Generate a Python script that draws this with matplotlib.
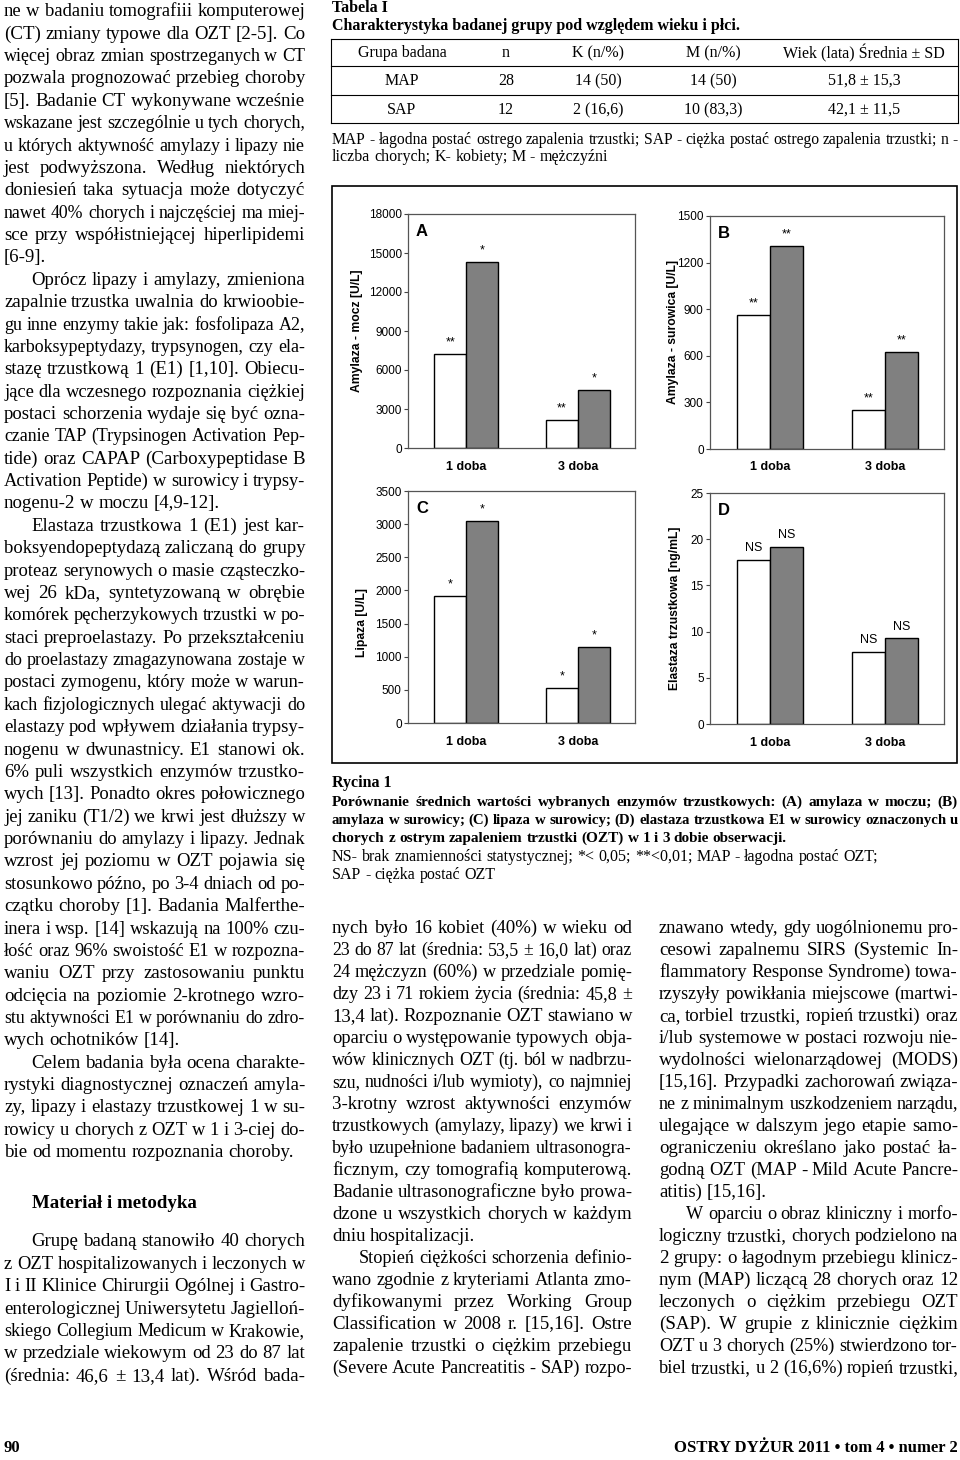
import matplotlib
matplotlib.use('Agg')
import matplotlib.pyplot as plt
from matplotlib.patches import Rectangle
from matplotlib.lines import Line2D

W, H = 960, 1460
SERIF = 'Liberation Serif'
SANS = 'Liberation Sans'
BODY = 13.6

# ================= dane wykresu =================
doby = ['1 doba', '3 doba']

amyl_mocz_map = [7200, 2150]
amyl_mocz_sap = [14300, 4500]
amyl_mocz_sig_map = ['**', '**']
amyl_mocz_sig_sap = ['*', '*']

amyl_sur_map = [860, 250]
amyl_sur_sap = [1310, 625]
amyl_sur_sig_map = ['**', '**']
amyl_sur_sig_sap = ['**', '**']

lipaza_map = [1910, 530]
lipaza_sap = [3050, 1140]
lipaza_sig_map = ['*', '*']
lipaza_sig_sap = ['*', '*']

elast_map = [17.8, 7.8]
elast_sap = [19.2, 9.3]
elast_sig_map = ['NS', 'NS']
elast_sig_sap = ['NS', 'NS']

# ================= tabela =================
tab_header = ['Grupa badana', 'n', 'K (n/%)', 'M (n/%)', 'Wiek (lata) Średnia ± SD']
tab_rows = [
    ['MAP', '28', '14 (50)', '14 (50)', '51,8 ± 15,3'],
    ['SAP', '12', '2 (16,6)', '10 (83,3)', '42,1 ± 11,5'],
]

# ================= tekst (\t = wcięcie, \n = koniec akapitu) =================
col_left = [
    "ne w badaniu tomografiii komputerowej",
    "(CT) zmiany typowe dla OZT [2-5]. Co",
    "więcej obraz zmian spostrzeganych w CT",
    "pozwala prognozować przebieg choroby",
    "[5]. Badanie CT wykonywane wcześnie",
    "wskazane jest szczególnie u tych chorych,",
    "u których aktywność amylazy i lipazy nie",
    "jest podwyższona. Według niektórych",
    "doniesień taka sytuacja może dotyczyć",
    "nawet 40% chorych i najczęściej ma miej-",
    "sce przy współistniejącej hiperlipidemi",
    "[6-9].\n",
    "\tOprócz lipazy i amylazy, zmieniona",
    "zapalnie trzustka uwalnia do krwioobie-",
    "gu inne enzymy takie jak: fosfolipaza A2,",
    "karboksypeptydazy, trypsynogen, czy ela-",
    "stazę trzustkową 1 (E1) [1,10]. Obiecu-",
    "jące dla wczesnego rozpoznania ciężkiej",
    "postaci schorzenia wydaje się być ozna-",
    "czanie TAP (Trypsinogen Activation Pep-",
    "tide) oraz CAPAP (Carboxypeptidase B",
    "Activation Peptide) w surowicy i trypsy-",
    "nogenu-2 w moczu [4,9-12].\n",
    "\tElastaza trzustkowa 1 (E1) jest kar-",
    "boksyendopeptydazą zaliczaną do grupy",
    "proteaz serynowych o masie cząsteczko-",
    "wej 26 kDa, syntetyzowaną w obrębie",
    "komórek pęcherzykowych trzustki w po-",
    "staci preproelastazy. Po przekształceniu",
    "do proelastazy zmagazynowana zostaje w",
    "postaci zymogenu, który może w warun-",
    "kach fizjologicznych ulegać aktywacji do",
    "elastazy pod wpływem działania trypsy-",
    "nogenu w dwunastnicy. E1 stanowi ok.",
    "6% puli wszystkich enzymów trzustko-",
    "wych [13]. Ponadto okres połowicznego",
    "jej zaniku (T1/2) we krwi jest dłuższy w",
    "porównaniu do amylazy i lipazy. Jednak",
    "wzrost jej poziomu w OZT pojawia się",
    "stosunkowo późno, po 3-4 dniach od po-",
    "czątku choroby [1]. Badania Malferthe-",
    "inera i wsp. [14] wskazują na 100% czu-",
    "łość oraz 96% swoistość E1 w rozpozna-",
    "waniu OZT przy zastosowaniu punktu",
    "odcięcia na poziomie 2-krotnego wzro-",
    "stu aktywności E1 w porównaniu do zdro-",
    "wych ochotników [14].\n",
    "\tCelem badania była ocena charakte-",
    "rystyki diagnostycznej oznaczeń amyla-",
    "zy, lipazy i elastazy trzustkowej 1 w su-",
    "rowicy u chorych z OZT w 1 i 3-ciej do-",
    "bie od momentu rozpoznania choroby.\n",
]

col_left2 = [
    "\tGrupę badaną stanowiło 40 chorych",
    "z OZT hospitalizowanych i leczonych w",
    "I i II Klinice Chirurgii Ogólnej i Gastro-",
    "enterologicznej Uniwersytetu Jagielloń-",
    "skiego Collegium Medicum w Krakowie,",
    "w przedziale wiekowym od 23 do 87 lat",
    "(średnia: 46,6 ± 13,4 lat). Wśród bada-",
]

col_mid = [
    "nych było 16 kobiet (40%) w wieku od",
    "23 do 87 lat (średnia: 53,5 ± 16,0 lat) oraz",
    "24 mężczyzn (60%) w przedziale pomię-",
    "dzy 23 i 71 rokiem życia (średnia: 45,8 ±",
    "13,4 lat). Rozpoznanie OZT stawiano w",
    "oparciu o występowanie typowych obja-",
    "wów klinicznych OZT (tj. ból w nadbrzu-",
    "szu, nudności i/lub wymioty), co najmniej",
    "3-krotny wzrost aktywności enzymów",
    "trzustkowych (amylazy, lipazy) we krwi i",
    "było uzupełnione badaniem ultrasonogra-",
    "ficznym, czy tomografią komputerową.",
    "Badanie ultrasonograficzne było prowa-",
    "dzone u wszystkich chorych w każdym",
    "dniu hospitalizacji.\n",
    "\tStopień ciężkości schorzenia definio-",
    "wano zgodnie z kryteriami Atlanta zmo-",
    "dyfikowanymi przez Working Group",
    "Classification w 2008 r. [15,16]. Ostre",
    "zapalenie trzustki o ciężkim przebiegu",
    "(Severe Acute Pancreatitis - SAP) rozpo-",
]

col_right = [
    "znawano wtedy, gdy uogólnionemu pro-",
    "cesowi zapalnemu SIRS (Systemic In-",
    "flammatory Response Syndrome) towa-",
    "rzyszyły powikłania miejscowe (martwi-",
    "ca, torbiel trzustki, ropień trzustki) oraz",
    "i/lub systemowe w postaci rozwoju nie-",
    "wydolności wielonarządowej (MODS)",
    "[15,16]. Przypadki zachorowań związa-",
    "ne z minimalnym uszkodzeniem narządu,",
    "ulegające w dalszym jego etapie samo-",
    "ograniczeniu określano jako postać ła-",
    "godną OZT (MAP - Mild Acute Pancre-",
    "atitis) [15,16].\n",
    "\tW oparciu o obraz kliniczny i morfo-",
    "logiczny trzustki, chorych podzielono na",
    "2 grupy: o łagodnym przebiegu klinicz-",
    "nym (MAP) liczącą 28 chorych oraz 12",
    "leczonych o ciężkim przebiegu OZT",
    "(SAP). W grupie z klinicznie ciężkim",
    "OZT u 3 chorych (25%) stwierdzono tor-",
    "biel trzustki, u 2 (16,6%) ropień trzustki,",
]

tab_note = [
    "MAP - łagodna postać ostrego zapalenia trzustki; SAP - ciężka postać ostrego zapalenia trzustki; n -",
    "liczba chorych; K- kobiety; M - mężczyźni\n",
]
fig_caption_bold = [
    "Porównanie średnich wartości wybranych enzymów trzustkowych: (A) amylaza w moczu; (B)",
    "amylaza w surowicy; (C) lipaza w surowicy; (D) elastaza trzustkowa E1 w surowicy oznaczonych u",
    "chorych z ostrym zapaleniem trzustki (OZT) w 1 i 3 dobie obserwacji.\n",
]
fig_caption = [
    "NS- brak znamienności statystycznej; *< 0,05; **<0,01; MAP - łagodna postać OZT;\n",
    "SAP - ciężka postać OZT\n",
]


fig = plt.figure(figsize=(W / 100, H / 100), dpi=100)
fig.patch.set_facecolor('white')
r = fig.canvas.get_renderer()

_space = {}


def space_w(size, weight):
    key = (size, weight)
    if key not in _space:
        a = fig.text(0, 0, 'x x', fontsize=size, family=SERIF, weight=weight)
        b = fig.text(0, 0, 'xx', fontsize=size, family=SERIF, weight=weight)
        _space[key] = a.get_window_extent(r).width - b.get_window_extent(r).width
        a.remove()
        b.remove()
    return _space[key]


def put_line(text, x0, x1, yc, size=BODY, weight='normal', indent=27):
    # justowanie linii tekstu po słowach (piksele obrazu, y od góry)
    last = text.endswith('\n')
    if text.startswith('\t'):
        x0 += indent
    words = text.split()
    ts = [fig.text(0, 0, w, fontsize=size, family=SERIF, weight=weight, va='baseline')
          for w in words]
    widths = [t.get_window_extent(r).width for t in ts]
    sp = space_w(size, weight)
    natural = sum(widths) + sp * (len(words) - 1)
    avail = x1 - x0
    if natural > avail:
        k = avail / natural
        for t in ts:
            t.set_fontsize(size * k)
        widths = [w * k for w in widths]
        sp *= k
    if last or len(words) == 1:
        gap = sp
    else:
        gap = (avail - sum(widths)) / (len(words) - 1)
    base = yc + 0.23 * size * 100 / 72
    x = x0
    for t, w in zip(ts, widths):
        t.set_position((x / W, 1 - base / H))
        x += w + gap


def put_column(lines, x0, x1, y0, step, size=BODY, weight='normal'):
    for i, s in enumerate(lines):
        put_line(s, x0, x1, y0 + i * step, size, weight)


# ================= tekst główny =================
put_column(col_left, 4, 305, 12, 22.37)
fig.text(32 / W, 1 - 1208 / H, 'Materiał i metodyka', fontsize=13.6, family=SERIF,
         weight='bold', va='baseline')
put_column(col_left2, 4, 305, 1242, 22.4)
put_column(col_mid, 332, 632, 929, 22.0)
put_column(col_right, 659, 958, 929, 22.0)

# ================= tabela =================
fig.text(332 / W, 1 - 12 / H, 'Tabela I', fontsize=11.5, family=SERIF, weight='bold', va='baseline')
fig.text(332 / W, 1 - 30 / H, 'Charakterystyka badanej grupy pod względem wieku i płci.',
         fontsize=11.5, family=SERIF, weight='bold', va='baseline')

tx0, tx1 = 331, 958
row_lines = [39, 66, 95, 123]
for yy in row_lines:
    fig.add_artist(Line2D([tx0 / W, tx1 / W], [1 - yy / H, 1 - yy / H], color='black', lw=0.8))
for xx in (tx0, tx1):
    fig.add_artist(Line2D([xx / W, xx / W], [1 - row_lines[0] / H, 1 - row_lines[-1] / H],
                          color='black', lw=0.8))
col_cx = [402, 506, 598, 713, 864]
row_cy = [53, 81, 110]
for j, cell in enumerate(tab_header):
    fig.text(col_cx[j] / W, 1 - row_cy[0] / H, cell, fontsize=11.5, family=SERIF,
             ha='center', va='center')
for i, row in enumerate(tab_rows):
    for j, cell in enumerate(row):
        fig.text(col_cx[j] / W, 1 - row_cy[i + 1] / H, cell, fontsize=11.5, family=SERIF,
                 ha='center', va='center')
put_column(tab_note, 332, 958, 140, 17.5, size=11.5)

# ================= rycina =================
fig.add_artist(Rectangle((332 / W, 1 - 763 / H), (957 - 332) / W, (763 - 186) / H,
                         transform=fig.transFigure, fill=False, ec='black', lw=1.2))


def panel(box, map_vals, sap_vals, sig_map, sig_sap, ymax, step, ylabel, letter, lab_x, lab_y=0.5):
    l, t, rr, b = box
    ax = fig.add_axes([l / W, 1 - b / H, (rr - l) / W, (b - t) / H])
    w = 0.286
    xs = list(range(len(doby)))
    ax.bar([x - w / 2 for x in xs], map_vals, w, color='white', edgecolor='black', lw=1)
    ax.bar([x + w / 2 for x in xs], sap_vals, w, color='#808080', edgecolor='black', lw=1)
    for x, v, s in zip(xs, map_vals, sig_map):
        ax.annotate(s, (x - w / 2, v), xytext=(0, 4), textcoords='offset points',
                    ha='center', va='bottom', fontsize=9, family=SANS)
    for x, v, s in zip(xs, sap_vals, sig_sap):
        ax.annotate(s, (x + w / 2, v), xytext=(0, 4), textcoords='offset points',
                    ha='center', va='bottom', fontsize=9, family=SANS)
    ax.set_xlim(-0.52, 1.51)
    ax.set_ylim(0, ymax)
    ax.set_yticks([k * step for k in range(int(round(ymax / step)) + 1)])
    ax.set_xticks(xs)
    ax.set_xticklabels(doby, fontsize=9, family=SANS, weight='bold')
    for lab in ax.get_yticklabels():
        lab.set_family(SANS)
        lab.set_fontsize(8.5)
    ax.tick_params(axis='x', length=0, pad=9)
    ax.tick_params(axis='y', length=3, pad=1.5, width=0.8, color='#444444')
    for sp in ax.spines.values():
        sp.set_color('#555555')
        sp.set_linewidth(0.9)
    ax.set_ylabel(ylabel, fontsize=8.7, family=SANS, weight='bold')
    ax.yaxis.label.set_va('center')
    ax.yaxis.set_label_coords((lab_x - l) / (rr - l), lab_y)
    ax.text(0.035, 0.925, letter, transform=ax.transAxes, fontsize=12, family=SANS,
            weight='bold', va='center', ha='left')
    return ax


panel((408, 214, 635, 448), amyl_mocz_map, amyl_mocz_sap, amyl_mocz_sig_map, amyl_mocz_sig_sap,
      18000, 3000, 'Amylaza - mocz [U/L]', 'A', 357)
panel((710, 216, 944, 449), amyl_sur_map, amyl_sur_sap, amyl_sur_sig_map, amyl_sur_sig_sap,
      1500, 300, 'Amylaza - surowica [U/L]', 'B', 673)
panel((408, 491, 635, 723), lipaza_map, lipaza_sap, lipaza_sig_map, lipaza_sig_sap,
      3500, 500, 'Lipaza [U/L]', 'C', 362, 0.435)
panel((710, 493, 944, 724), elast_map, elast_sap, elast_sig_map, elast_sig_sap,
      25, 5, 'Elastaza trzustkowa [ng/mL]', 'D', 675)

fig.text(332 / W, 1 - 787 / H, 'Rycina 1', fontsize=11.5, family=SERIF, weight='bold', va='baseline')
put_column(fig_caption_bold, 332, 958, 802, 18.3, size=11, weight='bold')
put_column(fig_caption, 332, 958, 857, 18.0, size=11.5)

# ================= stopka =================
fig.text(3 / W, 1 - 1452 / H, '90', fontsize=12, family=SERIF, weight='bold', va='baseline')
fig.text(958 / W, 1 - 1452 / H, 'OSTRY DYŻUR 2011 • tom 4 • numer 2', fontsize=12,
         family=SERIF, weight='bold', ha='right', va='baseline')

fig.savefig('out.png', dpi=100)
